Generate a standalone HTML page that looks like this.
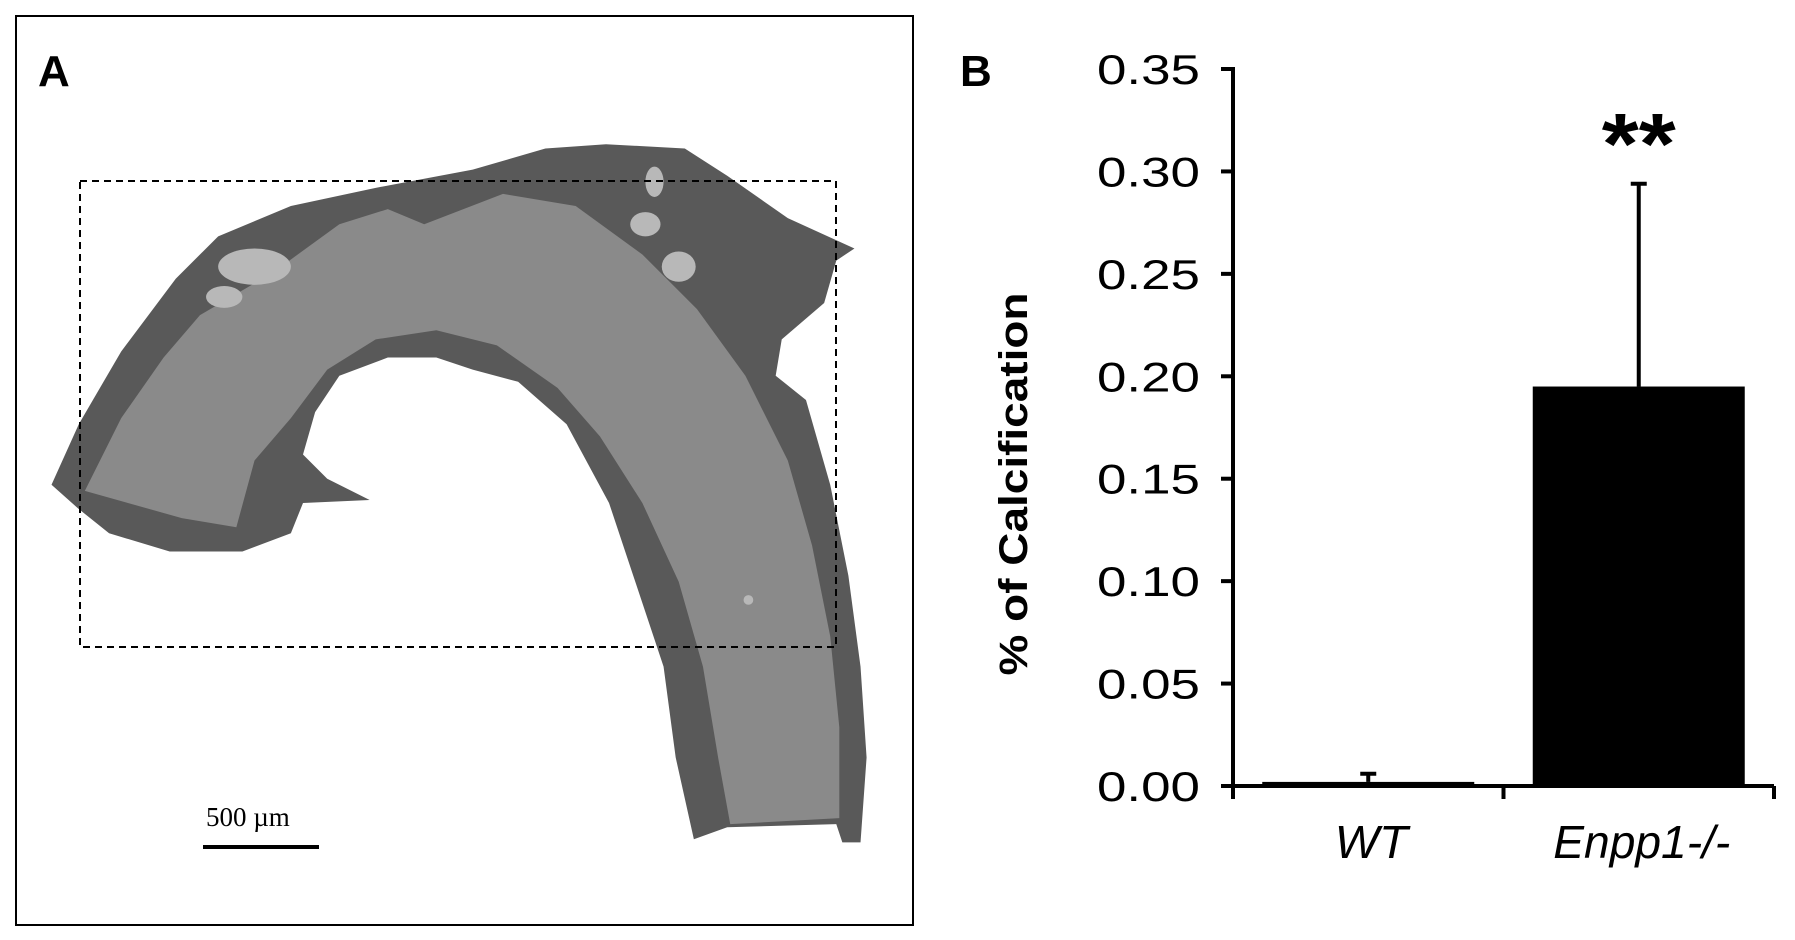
<!DOCTYPE html>
<html><head><meta charset="utf-8"><style>
html,body{margin:0;padding:0;background:#fff;}
svg{display:block;font-family:"Liberation Sans",Arial,sans-serif;}
</style></head><body>
<svg width="1795" height="940" viewBox="0 0 1795 940">
  <g>
    <rect x="16" y="16" width="897" height="909" fill="none" stroke="#000" stroke-width="2"/>
    <text x="38" y="86" font-size="44" font-weight="bold">A</text>
    <g transform="scale(0.606)">
      <path fill="#595959" d="M85,800 L130,700 L200,580 L290,460 L360,390 L480,340 L620,310 L780,280 L900,245 L1000,238 L1130,245 L1200,290 L1300,360 L1410,410 L1380,430 L1360,500 L1290,560 L1280,620 L1330,660 L1370,800 L1400,950 L1420,1100 L1430,1250 L1420,1390 L1390,1390 L1380,1360 L1200,1365 L1145,1385 L1115,1250 L1095,1100 L1045,950 L1005,830 L935,700 L855,630 L780,610 L720,590 L640,590 L560,620 L520,680 L500,750 L540,790 L610,825 L500,830 L480,880 L400,910 L280,910 L180,880 L130,840 Z"/>
      <path fill="#8a8a8a" d="M140,810 L200,690 L270,590 L330,520 L450,450 L560,370 L640,345 L700,370 L830,320 L950,340 L1060,420 L1150,510 L1230,620 L1300,760 L1340,900 L1370,1050 L1385,1200 L1385,1350 L1205,1360 L1185,1250 L1160,1100 L1120,960 L1060,830 L990,720 L920,640 L820,570 L720,545 L620,560 L540,610 L480,690 L420,760 L390,870 L300,855 Z"/>
      <g fill="#b8b8b8">
        <ellipse cx="420" cy="440" rx="60" ry="30"/><ellipse cx="370" cy="490" rx="30" ry="18"/>
        <ellipse cx="1065" cy="370" rx="25" ry="20"/><ellipse cx="1120" cy="440" rx="28" ry="25"/>
        <ellipse cx="1080" cy="300" rx="15" ry="25"/><circle cx="1235" cy="990" r="8"/>
      </g>
    </g>
    <rect x="80" y="181" width="756" height="466" fill="none" stroke="#000" stroke-width="2" stroke-dasharray="7,5"/>
    <text x="206" y="826" font-size="27" font-family="Liberation Serif,serif">500 µm</text>
    <line x1="203" y1="847" x2="319" y2="847" stroke="#000" stroke-width="4"/>
  </g>
  <g id="chart">
    <text x="960" y="86" font-size="44" font-weight="bold">B</text>
    <text transform="translate(1027,484) rotate(-90)" text-anchor="middle" font-size="40" font-weight="bold" textLength="383" lengthAdjust="spacingAndGlyphs">% of Calcification</text>
  </g>
</svg>
<script>
const categories = ["WT", "Enpp1-/-"];
const values = [0.002, 0.195];
const errors = [0.004, 0.099];
const yTicks = [0, 0.05, 0.10, 0.15, 0.20, 0.25, 0.30, 0.35];
const yTickLabels = ["0.00","0.05","0.10","0.15","0.20","0.25","0.30","0.35"];
const annotations = ["", "**"];

const NS = "http://www.w3.org/2000/svg";
const g = document.getElementById("chart");
const x0 = 1233, x1 = 1774, y0 = 786, yTop = 69, yMax = 0.35;
const y = v => y0 - (v / yMax) * (y0 - yTop);
const band = (x1 - x0) / categories.length;
const xc = i => x0 + band * (i + 0.5);
const barW = 212;
const labelW = [73, 177];
function mk(tag, attrs) { const e = document.createElementNS(NS, tag); for (const k in attrs) e.setAttribute(k, attrs[k]); g.appendChild(e); return e; }

values.forEach((v, i) => {
  const b = mk("rect", {x: xc(i) - barW/2, y: y(v), width: barW, height: y0 - y(v), fill: "#000"});
  
  
  const top = y(v + errors[i]);
  const e1 = mk("line", {x1: xc(i), x2: xc(i), y1: y(v), y2: top, stroke: "#000", "stroke-width": 4});
  
  
  const e2 = mk("line", {x1: xc(i) - 8, x2: xc(i) + 8, y1: top, y2: top, stroke: "#000", "stroke-width": 4});
  
  
  if (annotations[i]) {
    const s = mk("text", {x: xc(i), y: top - 10, "text-anchor": "middle", "font-size": 86, "font-weight": "bold", textLength: 74, lengthAdjust: "spacingAndGlyphs"});
    s.textContent = annotations[i];
    
    
  }
  const l = mk("text", {x: xc(i) + 3, y: 858, "text-anchor": "middle", "font-size": 46, "font-style": "italic", textLength: labelW[i], lengthAdjust: "spacingAndGlyphs"});
  l.textContent = categories[i];
  
  
});

const ya = mk("line", {x1: x0, x2: x0, y1: yTop - 2, y2: y0 + 13, stroke: "#000", "stroke-width": 4});


const xa = mk("line", {x1: x0 - 10, x2: x1, y1: y0, y2: y0, stroke: "#000", "stroke-width": 4});


[0, 1, 2].forEach(k => {
  const xx = x0 + band * k;
  const t = mk("line", {x1: xx, x2: xx, y1: y0, y2: y0 + 13, stroke: "#000", "stroke-width": 4});
  
  
});
yTicks.forEach((v, i) => {
  const t = mk("line", {x1: x0 - 12, x2: x0, y1: y(v), y2: y(v), stroke: "#000", "stroke-width": 4});
  
  
  const l = mk("text", {x: 1200, y: y(v) + 15, "text-anchor": "end", "font-size": 42, textLength: 103, lengthAdjust: "spacingAndGlyphs"});
  l.textContent = yTickLabels[i];
  
  
});
</script>
</body></html>
